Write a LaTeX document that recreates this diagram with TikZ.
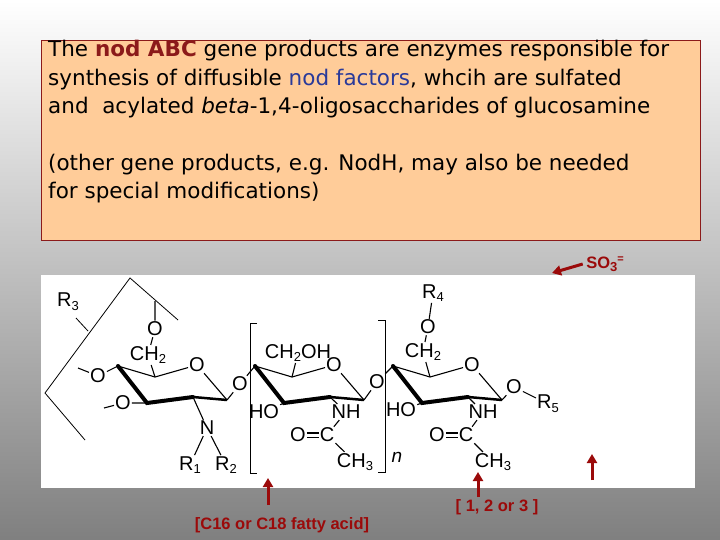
\documentclass[tikz,border=0pt]{standalone}
\usepackage{fontspec}
\setmainfont{DejaVu Sans}
\newfontfamily\arialf{Liberation Sans}
\usetikzlibrary{arrows.meta}
\definecolor{peach}{HTML}{FFCC99}
\definecolor{boxred}{HTML}{8B1A1A}
\definecolor{darkred}{HTML}{9B0A0A}
\definecolor{nodblue}{HTML}{2A3A9A}
\newcommand{\sbs}[1]{\raisebox{-0.35ex}{\fontsize{13}{13}\selectfont #1}}
\newcommand{\sps}[1]{\raisebox{0.7ex}{\fontsize{11}{11}\selectfont #1}}
\tikzset{
 atom/.style={font=\arialf\fontsize{20}{20}\selectfont, inner sep=1pt},
 bond/.style={line width=1.1pt},
 wedge/.style={line width=4pt, line cap=round},
 redarrow/.style={draw=darkred, line width=3pt, -{Triangle[length=9pt,width=10pt]}},
 redlab/.style={font=\arialf\bfseries\fontsize{16.5}{16.5}\selectfont, text=darkred},
}
\newcommand{\chairring}[2]{%
 \begin{scope}[shift={(#1,0)}]
  \coordinate (#2c4) at (118,366);
  \coordinate (#2c3) at (147,403);
  \coordinate (#2c2) at (193,397);
  \coordinate (#2c1) at (227,400);
  \node[atom] (#2o5) at (197,365) {O};
  \coordinate (#2c5) at (155,377);
  \draw[wedge] (#2c4) -- (#2c3) -- (#2c2);
  \draw[line width=2.5pt] (#2c2) -- (#2c1);
  \draw[bond] (#2c1) -- (#2o5) -- (#2c5) -- (#2c4);
 \end{scope}}
\begin{document}
\begin{tikzpicture}[x=1pt,y=-1pt]
\shade[top color=white, bottom color=black!50] (0,0) rectangle (720,540);
\useasboundingbox (0,0) rectangle (720,540);
% text box
\node[draw=boxred, line width=1.2pt, fill=peach, minimum width=659pt, minimum height=200pt, anchor=north west, inner sep=0pt] (box) at (41,40) {};
\node[anchor=north west, align=left, font=\fontsize{21.5}{28.5}\selectfont, inner sep=0pt] (txt) at (48,40)
{The {\color{boxred}\bfseries nod ABC} gene products are enzymes responsible for\\
synthesis of diffusible {\color{nodblue}nod factors}, whcih are sulfated\\
and\ \ acylated \textit{beta}-1,4-oligosaccharides of glucosamine\\[28pt]
(other gene products, e.g. NodH, may also be needed\\
for special modifications)};
% molecule panel
\node[fill=white, minimum width=654pt, minimum height=213pt, anchor=north west, inner sep=0pt] (panel) at (41,275) {};
\chairring{0}{a}
\chairring{137}{b}
\chairring{275}{c}
% ---- ring 1 substituents
\node[atom] (a3o) at (98,376) {O};
\coordinate (a3d) at (78,368);
\draw[bond] (a3d) -- (a3o) -- (ac4);
\node[atom] (a4o) at (123,403) {O};
\coordinate (a4d) at (104,408);
\draw[bond] (a4d) -- (a4o) -- (ac3);
\node[atom] (ach2) at (148,355) {CH\sbs{2}};
\node[atom] (a6o) at (155,329) {O};
\coordinate (ar3top) at (155,301);
\draw[bond] (ac5) -- (ach2) -- (a6o) -- (ar3top);
\coordinate (bk1) at (130,278);
\coordinate (bk2) at (45,393);
\coordinate (bk3) at (85,440);
\coordinate (bk4) at (178,320);
\draw[bond, line width=0.8pt] (bk3) -- (bk2) -- (bk1) -- (bk4);
\node[atom] (r3) at (68,302) {R\sbs{3}};
\coordinate (t1) at (76,318);
\coordinate (t2) at (88,331);
\draw[line width=0.8pt] (t1) -- (t2);
\node[atom] (an) at (207,428) {N};
\node[atom] (r1) at (190,465) {R\sbs{1}};
\node[atom] (r2) at (226,465) {R\sbs{2}};
\draw[bond] (ac2) -- (an) (an) -- (r1) (an) -- (r2);
\node[atom] (g1) at (240,384) {O};
\draw[bond] (ac1) -- (g1) -- (bc4);
% ---- ring 2
\node[atom] (bch2) at (298,353) {CH\sbs{2}OH};
\draw[bond] (bc5) -- (bch2);
\node[atom] (bho) at (264,412) {HO};
\draw[bond] (bho) -- (bc3);
\node[atom] (bnh) at (346,412) {NH};
\draw[bond] (bc2) -- (bnh);
\node[atom] (bco) at (298,435) {O};
\node[atom] (bcc) at (327,435) {C};
\draw[bond, double, double distance=3pt] (bco) -- (bcc);
\node[atom] (bme) at (355,462) {CH\sbs{3}};
\draw[bond] (bnh) -- (bcc) -- (bme);
\node[atom] (g2) at (377,382) {O};
\draw[bond] (bc1) -- (g2) -- (cc4);
% brackets
\coordinate (lb1) at (257,323); \coordinate (lb2) at (250,323);
\coordinate (lb3) at (250,473); \coordinate (lb4) at (257,473);
\draw[line width=0.9pt] (lb1) -- (lb2) -- (lb3) -- (lb4);
\coordinate (rb1) at (378,320); \coordinate (rb2) at (385,320);
\coordinate (rb3) at (385,472); \coordinate (rb4) at (378,472);
\draw[line width=0.9pt] (rb1) -- (rb2) -- (rb3) -- (rb4);
\node[atom, font=\arialf\itshape\fontsize{19}{19}\selectfont] (nn) at (397,457) {n};
% ---- ring 3
\node[atom] (r4) at (433,293) {R\sbs{4}};
\node[atom] (c6o) at (428,327) {O};
\node[atom] (cch2) at (423,352) {CH\sbs{2}};
\draw[bond] (r4) -- (c6o) -- (cch2) -- (cc5);
\node[atom] (cho) at (401,410) {HO};
\draw[bond] (cho) -- (cc3);
\node[atom] (cnh) at (483,412) {NH};
\draw[bond] (cc2) -- (cnh);
\node[atom] (cco) at (437,435) {O};
\node[atom] (ccc) at (466,435) {C};
\draw[bond, double, double distance=3pt] (cco) -- (ccc);
\node[atom] (cme) at (493,462) {CH\sbs{3}};
\draw[bond] (cnh) -- (ccc) -- (cme);
\node[atom] (c1o) at (514,387) {O};
\node[atom] (r5) at (548,404) {R\sbs{5}};
\draw[bond] (cc1) -- (c1o) -- (r5);
% ---- red annotations
\node[redlab] (so3) at (605,264) {SO\sbs{3}\sps{=}};
\coordinate (so3t) at (552,273);
\draw[redarrow] (so3.west) -- (so3t);
\node[redlab] (fa) at (282,525) {[C16 or C18 fatty acid]};
\coordinate (fa1) at (268,505); \coordinate (fa2) at (268,478);
\draw[redarrow] (fa1) -- (fa2);
\node[redlab] (nr) at (497,507) {[ 1, 2 or 3 ]};
\coordinate (n1) at (478,497); \coordinate (n2) at (478,472);
\draw[redarrow] (n1) -- (n2);
\coordinate (m1) at (592,480); \coordinate (m2) at (592,454);
\draw[redarrow] (m1) -- (m2);
\end{tikzpicture}
\end{document}
